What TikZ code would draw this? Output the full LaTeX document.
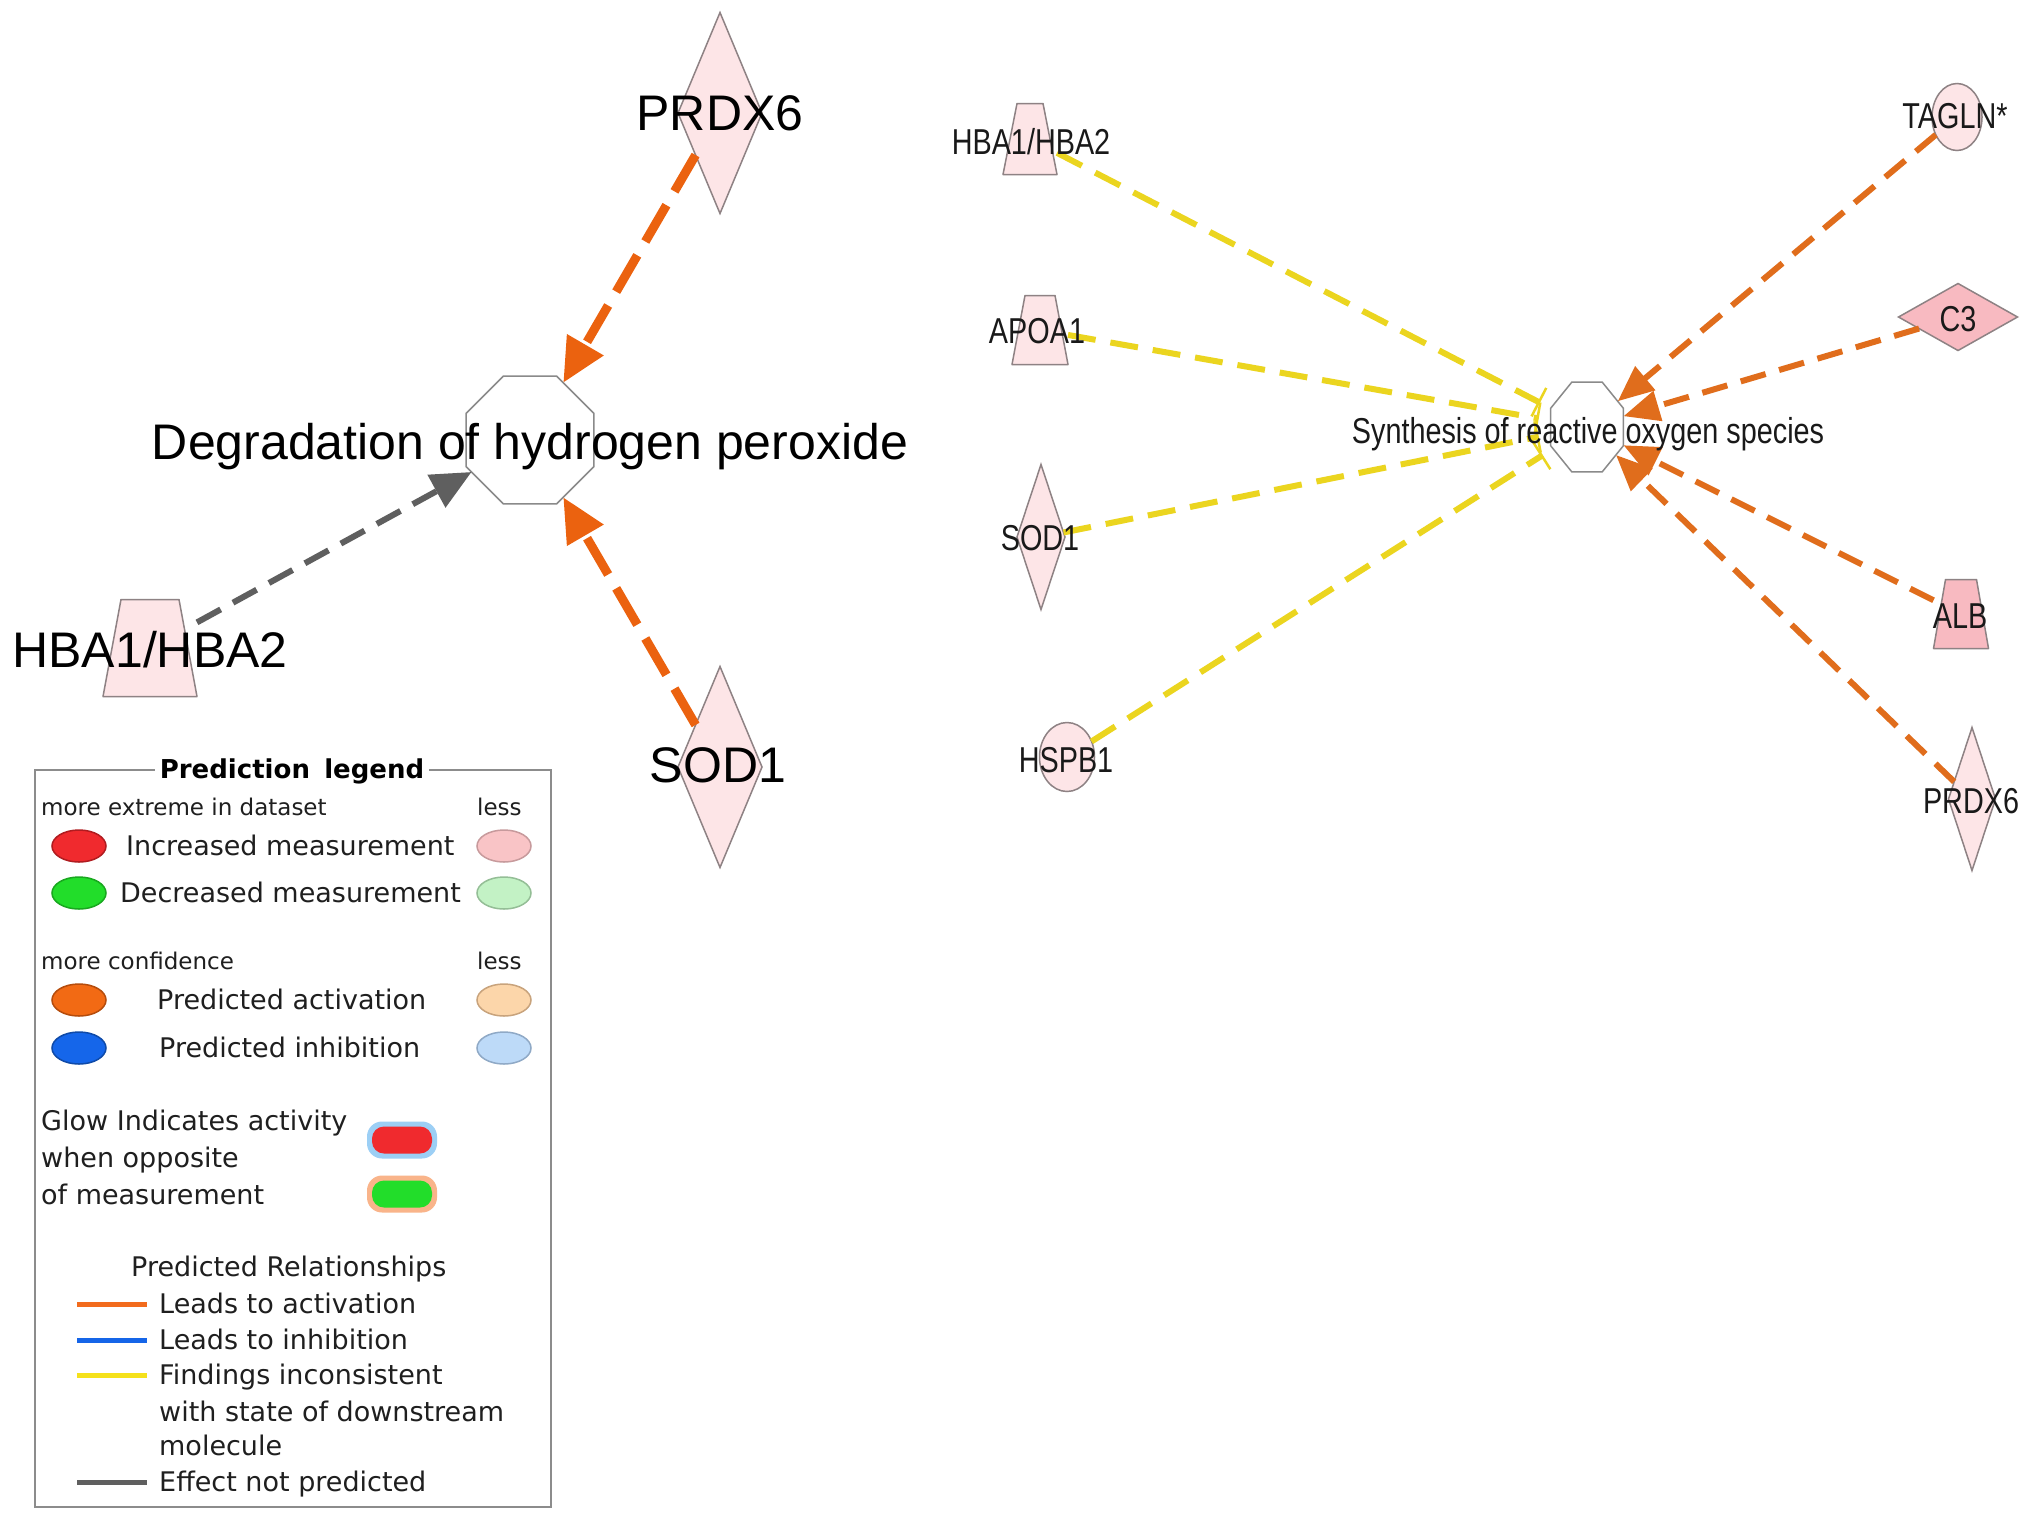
\documentclass[tikz,border=0pt]{standalone}
\usepackage{fontspec}
\setmainfont{Liberation Sans}
\newfontfamily\narrowfont[FakeStretch=0.8]{Liberation Sans}
\newfontfamily\legfont{DejaVu Sans}
\usetikzlibrary{shapes.geometric,arrows.meta}
\definecolor{nodepink}{HTML}{FDE5E7}
\definecolor{nodepinkD}{HTML}{F8BAC1}
\definecolor{nodeborder}{HTML}{8E8284}
\definecolor{actL}{HTML}{EB620F}
\definecolor{actR}{HTML}{E06D1C}
\definecolor{incons}{HTML}{EBD51F}
\definecolor{notpred}{HTML}{5F5F5F}
\definecolor{octborder}{HTML}{8A8A8A}
\definecolor{legborder}{HTML}{8C8C8C}
\definecolor{lRed}{HTML}{F02A2E}\definecolor{lRedD}{HTML}{B01C20}
\definecolor{lPink}{HTML}{F9C4C6}\definecolor{lPinkD}{HTML}{C79A9C}
\definecolor{lGreen}{HTML}{22DD2A}\definecolor{lGreenD}{HTML}{19A81F}
\definecolor{lLGreen}{HTML}{C3F2C5}\definecolor{lLGreenD}{HTML}{94BE96}
\definecolor{lOrange}{HTML}{F26A14}\definecolor{lOrangeD}{HTML}{B54C0C}
\definecolor{lLOrange}{HTML}{FCD6AA}\definecolor{lLOrangeD}{HTML}{C8A37C}
\definecolor{lBlue}{HTML}{1566EA}\definecolor{lBlueD}{HTML}{0F4AA8}
\definecolor{lLBlue}{HTML}{BDDAF8}\definecolor{lLBlueD}{HTML}{8FA9C6}
\definecolor{glowBlue}{HTML}{9CCFF5}
\definecolor{glowOrange}{HTML}{F9B48A}
\definecolor{relOrange}{HTML}{F26B1D}
\definecolor{relBlue}{HTML}{1565E8}
\definecolor{relYellow}{HTML}{F5E11B}
% draws a trapezoid over the (invisible) rectangle node #1, top edge inset #2, fill #3
\newcommand{\trapdraw}[3]{%
  \draw[draw=nodeborder, line width=1.5pt, fill=#3, line join=round]
    (#1.south west) -- (#1.south east) -- ([xshift=-#2pt]#1.north east)
    -- ([xshift=#2pt]#1.north west) -- cycle;}
\begin{document}
\begin{tikzpicture}[x=1pt,y=-1pt,
  mol/.style={draw=nodeborder, line width=1.5pt, fill=nodepink, inner sep=0pt, outer sep=0pt},
  dia/.style={mol, diamond},
  trapbox/.style={draw=none, fill=none, rectangle, inner sep=0pt, outer sep=0pt},
  ell/.style={mol, ellipse},
  octa/.style={draw=octborder, line width=1.5pt, fill=white, regular polygon, regular polygon sides=8, inner sep=0pt, outer sep=0pt},
  biglab/.style={inner sep=0pt, font=\fontsize{50}{60}\selectfont, text height=36pt, text depth=0pt},
  smlab/.style={inner sep=0pt, font=\narrowfont\fontsize{36}{43}\selectfont, text height=26pt, text depth=0pt, text=black!90},
  actLeft/.style={draw=actL, line width=9pt, dash pattern=on 42pt off 16pt, -{Triangle[length=44pt,width=40pt]}},
  npEdge/.style={draw=notpred, line width=6pt, dash pattern=on 27pt off 14pt, -{Triangle[length=40pt,width=36pt]}},
  incEdge/.style={draw=incons, line width=6pt, dash pattern=on 28pt off 15pt, shorten >=12pt, -{Bar[width=32pt,line width=2.5pt]}},
  actRight/.style={draw=actR, line width=6pt, dash pattern=on 26pt off 14pt, -{Triangle[length=36pt,width=30pt]}},
  legtxt/.style={inner sep=0pt, anchor=west, font=\legfont\fontsize{27}{32}\selectfont, text height=19.5pt, text depth=0pt, text=black!88},
  legsmall/.style={inner sep=0pt, anchor=west, font=\legfont\fontsize{23}{28}\selectfont, text height=16.5pt, text depth=0pt, text=black!88},
  legell/.style={ellipse, minimum width=54pt, minimum height=32pt, inner sep=0pt, line width=1.5pt},
  legline/.style={line width=5pt}
]
\useasboundingbox[fill=white] (0,0) rectangle (2031,1521);

% ---------- left network: shapes ----------
\node[dia, minimum width=84pt, minimum height=201pt] (prdx6L) at (720,113) {};
\node[dia, minimum width=84pt, minimum height=201pt] (sod1L) at (720,767) {};
\node[trapbox, minimum width=94pt, minimum height=97pt] (hbaL) at (150,648) {};
\trapdraw{hbaL}{18}{nodepink}
\node[octa, minimum size=138.5pt] (octL) at (530,440) {};

% ---------- right network: shapes ----------
\node[trapbox, minimum width=54pt, minimum height=71pt] (hbaR) at (1030,139) {};
\trapdraw{hbaR}{14}{nodepink}
\node[trapbox, minimum width=56pt, minimum height=69pt] (apoa1) at (1040,330) {};
\trapdraw{apoa1}{13}{nodepink}
\node[dia, minimum width=48pt, minimum height=145pt] (sod1R) at (1041,537) {};
\node[ell, minimum width=55pt, minimum height=69pt] (hspb1) at (1067,757) {};
\begin{scope}[shift={(1587,427)}, xscale=0.81]
\node[octa, minimum size=97.4pt, transform shape] (octR) at (0,0) {};
\end{scope}
\node[ell, minimum width=50pt, minimum height=67pt] (tagln) at (1957,117) {};
\node[dia, fill=nodepinkD, minimum width=119pt, minimum height=67pt] (c3) at (1958,317) {};
\node[trapbox, minimum width=55pt, minimum height=69pt] (alb) at (1961,614) {};
\trapdraw{alb}{12}{nodepinkD}
\node[dia, minimum width=47pt, minimum height=143pt] (prdx6R) at (1972,799) {};

% ---------- edges ----------
\draw[actLeft] (prdx6L) -- (octL);
\draw[actLeft] (sod1L) -- (octL);
\draw[npEdge] (hbaL) -- (octL);
\draw[incEdge] (hbaR) -- (octR);
\draw[incEdge] (apoa1) -- (octR);
\draw[incEdge] (sod1R) -- (octR);
\draw[incEdge] (hspb1) -- (octR);
\draw[actRight] (tagln) -- (octR);
\draw[actRight] (c3) -- (octR);
\draw[actRight] (alb) -- (octR);
\draw[actRight] (prdx6R) -- (octR);

% ---------- labels ----------
\node[biglab] (tPRDX6L) at (720,112) {PRDX6};
\node[biglab] (tSOD1L) at (718,764) {SOD1};
\node[biglab] (tHBAL) at (150,649) {HBA1/HBA2};
\node[biglab] (tDeg) at (530,441) {Degradation of hydrogen peroxide};

\node[smlab] (tHBAR) at (1031,141) {HBA1/HBA2};
\node[smlab] (tAPOA1) at (1037,330) {APOA1};
\node[smlab] (tSOD1R) at (1040,537) {SOD1};
\node[smlab] (tHSPB1) at (1066,759) {HSPB1};
\node[smlab] (tSyn) at (1588,430) {Synthesis of reactive oxygen species};
\node[smlab] (tTAGLN) at (1955,115) {TAGLN*};
\node[smlab] (tC3) at (1958,318) {C3};
\node[smlab] (tALB) at (1960,615) {ALB};
\node[smlab] (tPRDX6R) at (1971,800) {PRDX6};

% ---------- legend ----------
\node[draw=legborder, line width=2pt, minimum width=516pt, minimum height=737pt, anchor=north west, inner sep=0pt] (legbox) at (34,769) {};
\node[fill=white, inner sep=5pt, font=\legfont\bfseries\fontsize{26}{31}\selectfont, text height=19pt, text depth=0pt] (legtitle) at (292,769) {Prediction\hspace{0.2em} legend};

\node[legsmall] (lMore1) at (41,807) {more extreme in dataset};
\node[legsmall] (lLess1) at (477,807) {less};
\node[legell, fill=lRed, draw=lRedD] (eRed) at (79,846) {};
\node[legtxt] (lInc) at (126,846) {Increased measurement};
\node[legell, fill=lPink, draw=lPinkD] (ePink) at (504,846) {};
\node[legell, fill=lGreen, draw=lGreenD] (eGreen) at (79,893) {};
\node[legtxt] (lDec) at (120,893) {Decreased measurement};
\node[legell, fill=lLGreen, draw=lLGreenD] (eLGreen) at (504,893) {};

\node[legsmall] (lMore2) at (41,961) {more confidence};
\node[legsmall] (lLess2) at (477,961) {less};
\node[legell, fill=lOrange, draw=lOrangeD] (eOrange) at (79,1000) {};
\node[legtxt] (lAct) at (157,1000) {Predicted activation};
\node[legell, fill=lLOrange, draw=lLOrangeD] (eLOrange) at (504,1000) {};
\node[legell, fill=lBlue, draw=lBlueD] (eBlue) at (79,1048) {};
\node[legtxt] (lInh) at (159,1048) {Predicted inhibition};
\node[legell, fill=lLBlue, draw=lLBlueD] (eLBlue) at (504,1048) {};

\node[legtxt] (lGlow1) at (41,1121) {Glow Indicates activity};
\node[legtxt] (lGlow2) at (41,1158) {when opposite};
\node[legtxt] (lGlow3) at (41,1195) {of measurement};
\node[fill=glowBlue, rounded corners=15pt, minimum width=70pt, minimum height=37pt, inner sep=0pt] (gBlue) at (402,1140) {};
\node[fill=lRed, rounded corners=12pt, minimum width=60pt, minimum height=27pt, inner sep=0pt] (gRed) at (402,1140) {};
\node[fill=glowOrange, rounded corners=15pt, minimum width=70pt, minimum height=37pt, inner sep=0pt] (gOrange) at (402,1194) {};
\node[fill=lGreen, rounded corners=12pt, minimum width=60pt, minimum height=27pt, inner sep=0pt] (gGreen) at (402,1194) {};

\node[legtxt] (lRel) at (131,1267) {Predicted Relationships};
\draw[legline, relOrange] (77,1304) -- (147,1304);
\node[legtxt] (lR1) at (159,1304) {Leads to activation};
\draw[legline, relBlue] (77,1340) -- (147,1340);
\node[legtxt] (lR2) at (159,1340) {Leads to inhibition};
\draw[legline, relYellow] (77,1375) -- (147,1375);
\node[legtxt] (lR3) at (159,1375) {Findings inconsistent};
\node[legtxt] (lR4) at (159,1412) {with state of downstream};
\node[legtxt] (lR5) at (159,1446) {molecule};
\draw[legline, notpred] (77,1482) -- (147,1482);
\node[legtxt] (lR6) at (159,1482) {Effect not predicted};
\end{tikzpicture}
\end{document}
